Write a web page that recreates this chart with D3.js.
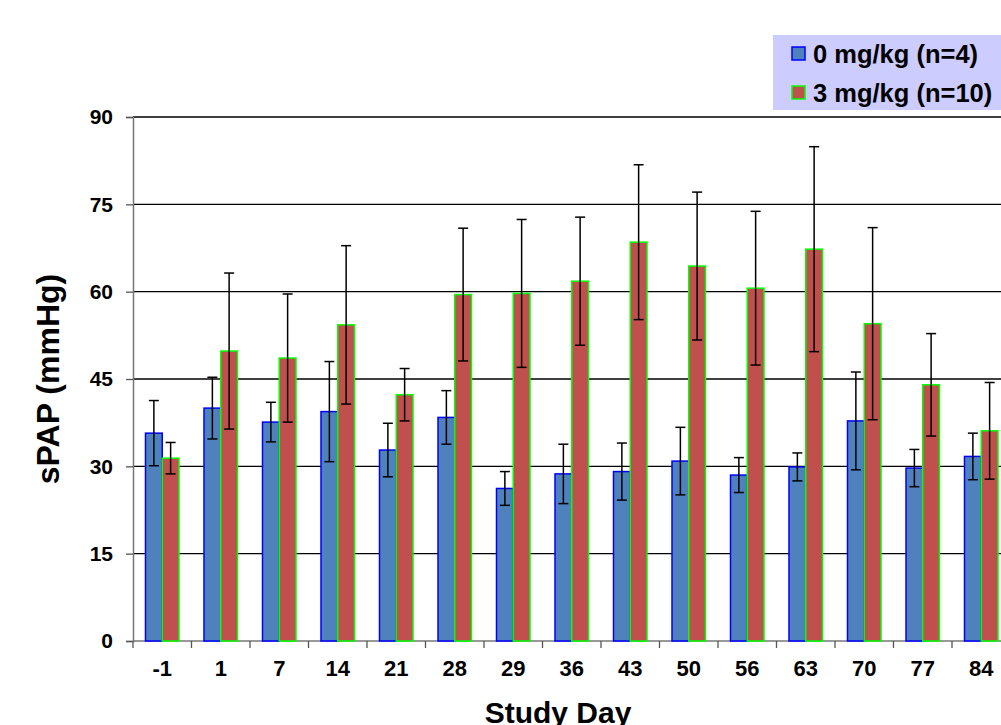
<!DOCTYPE html>
<html>
<head>
<meta charset="utf-8">
<script src="https://cdn.jsdelivr.net/npm/d3@7"></script>
<style>
  html, body { margin: 0; padding: 0; background: #fff; overflow: hidden; }
  svg { display: block; font-family: "Liberation Sans", Arial, sans-serif; font-weight: bold; }
</style>
</head>
<body>
<svg id="chart" width="1001" height="725"></svg>
<script>
// Study days on the x axis
const days = ["-1", "1", "7", "14", "21", "28", "29", "36", "43", "50", "56", "63", "70", "77", "84"];

// Series names
const seriesNames = ["0 mg/kg (n=4)", "3 mg/kg (n=10)"];

// Mean sPAP (mmHg) and error per day
const placeboMean = [35.7, 40.0, 37.6, 39.4, 32.8, 38.4, 26.2, 28.7, 29.1, 30.9, 28.5, 29.9, 37.8, 29.7, 31.7];
const placeboErr  = [5.6, 5.3, 3.4, 8.6, 4.6, 4.6, 2.9, 5.1, 4.9, 5.8, 3.0, 2.4, 8.4, 3.2, 4.0];
const doseMean    = [31.4, 49.8, 48.6, 54.3, 42.3, 59.5, 59.7, 61.8, 68.5, 64.4, 60.6, 67.3, 54.5, 44.0, 36.1];
const doseErr     = [2.7, 13.4, 11.0, 13.6, 4.5, 11.4, 12.7, 11.0, 13.3, 12.7, 13.2, 17.6, 16.5, 8.8, 8.3];

// Y axis ticks
const yTicks = [0, 15, 30, 45, 60, 75, 90];

const fills = ["#4F81BD", "#C0504D"];
const strokes = ["#0000FF", "#00FF00"];

const svg = d3.select("#chart");
const plotLeft = 133, plotTop = 117, plotBottom = 641, step = 58.5;
const plotRight = plotLeft + step * days.length;

const x = d3.scaleBand().domain(days).range([plotLeft, plotRight]).padding(0);
const xs = d3.scaleBand().domain(seriesNames).range([0, x.bandwidth()]).paddingInner(0).paddingOuter(0.746);
const y = d3.scaleLinear().domain([0, 90]).range([plotBottom, plotTop]);

const rows = days.map((d, i) => ({
  day: d,
  vals: [
    { s: seriesNames[0], k: 0, v: placeboMean[i], e: placeboErr[i] },
    { s: seriesNames[1], k: 1, v: doseMean[i], e: doseErr[i] }
  ]
}));

// Horizontal gridlines
svg.append("g").selectAll("line")
  .data(yTicks.filter(t => t > 0))
  .join("line")
  .attr("x1", plotLeft).attr("x2", 1001)
  .attr("y1", d => y(d)).attr("y2", d => y(d))
  .attr("stroke", "#000").attr("stroke-width", 1.3);

// Y axis
const yAxis = svg.append("g")
  .attr("transform", `translate(${plotLeft},0)`)
  .call(d3.axisLeft(y).tickValues(yTicks).tickSize(7).tickPadding(13));
yAxis.select(".domain").attr("stroke", "#777").attr("stroke-width", 1.5);
yAxis.selectAll(".tick line").attr("stroke", "#555").attr("stroke-width", 1.3);
yAxis.selectAll(".tick text")
  .attr("font-size", 21).attr("font-weight", "bold")
  .attr("font-family", "Liberation Sans, Arial, sans-serif").attr("fill", "#000");

// X axis: ticks at category boundaries
const xAxisG = svg.append("g").attr("transform", `translate(0,${plotBottom})`);
xAxisG.append("line").attr("x1", plotLeft).attr("x2", 1001)
  .attr("stroke", "#777").attr("stroke-width", 1.5);
xAxisG.selectAll("line.tk")
  .data(days)
  .join("line").attr("class", "tk")
  .attr("x1", d => x(d)).attr("x2", d => x(d))
  .attr("y1", 0).attr("y2", 7)
  .attr("stroke", "#555").attr("stroke-width", 1.3);
xAxisG.selectAll("text")
  .data(days)
  .join("text")
  .attr("x", d => x(d) + x.bandwidth() / 2)
  .attr("y", 35)
  .attr("text-anchor", "middle")
  .attr("font-size", 22)
  .text(d => d);

// Bars
const groups = svg.append("g").selectAll("g")
  .data(rows)
  .join("g")
  .attr("transform", d => `translate(${x(d.day)},0)`);

groups.selectAll("rect")
  .data(d => d.vals)
  .join("rect")
  .attr("x", d => xs(d.s))
  .attr("y", d => y(d.v))
  .attr("width", xs.bandwidth())
  .attr("height", d => y(0) - y(d.v))
  .attr("fill", d => fills[d.k])
  .attr("stroke", d => strokes[d.k])
  .attr("stroke-width", 1.5);

// Error bars
const cap = 5;
const eb = groups.selectAll("g.err")
  .data(d => d.vals)
  .join("g").attr("class", "err")
  .attr("stroke", "#000").attr("stroke-width", 1.5);
eb.append("line")
  .attr("x1", d => xs(d.s) + xs.bandwidth() / 2).attr("x2", d => xs(d.s) + xs.bandwidth() / 2)
  .attr("y1", d => y(d.v + d.e)).attr("y2", d => y(d.v - d.e));
eb.append("line")
  .attr("x1", d => xs(d.s) + xs.bandwidth() / 2 - cap).attr("x2", d => xs(d.s) + xs.bandwidth() / 2 + cap)
  .attr("y1", d => y(d.v + d.e)).attr("y2", d => y(d.v + d.e));
eb.append("line")
  .attr("x1", d => xs(d.s) + xs.bandwidth() / 2 - cap).attr("x2", d => xs(d.s) + xs.bandwidth() / 2 + cap)
  .attr("y1", d => y(d.v - d.e)).attr("y2", d => y(d.v - d.e));

// Axis titles
svg.append("text")
  .attr("transform", `translate(59,${(plotTop + plotBottom) / 2}) rotate(-90)`)
  .attr("text-anchor", "middle")
  .attr("font-size", 32)
  .text("sPAP (mmHg)");

svg.append("text")
  .attr("x", 558).attr("y", 723)
  .attr("text-anchor", "middle")
  .attr("font-size", 30)
  .text("Study Day");

// Legend
const legend = svg.append("g");
legend.append("rect")
  .attr("x", 773).attr("y", 35).attr("width", 240).attr("height", 75)
  .attr("fill", "#CCCCFF");
const li = legend.selectAll("g.item")
  .data(seriesNames)
  .join("g").attr("class", "item")
  .attr("transform", (d, i) => `translate(792,${47 + i * 39})`);
li.append("rect")
  .attr("width", 13).attr("height", 13)
  .attr("fill", (d, i) => fills[i])
  .attr("stroke", (d, i) => strokes[i]).attr("stroke-width", 1.5);
li.append("text")
  .attr("x", 21).attr("y", 16)
  .attr("font-size", 25.5)
  .text(d => d);
</script>
</body>
</html>
